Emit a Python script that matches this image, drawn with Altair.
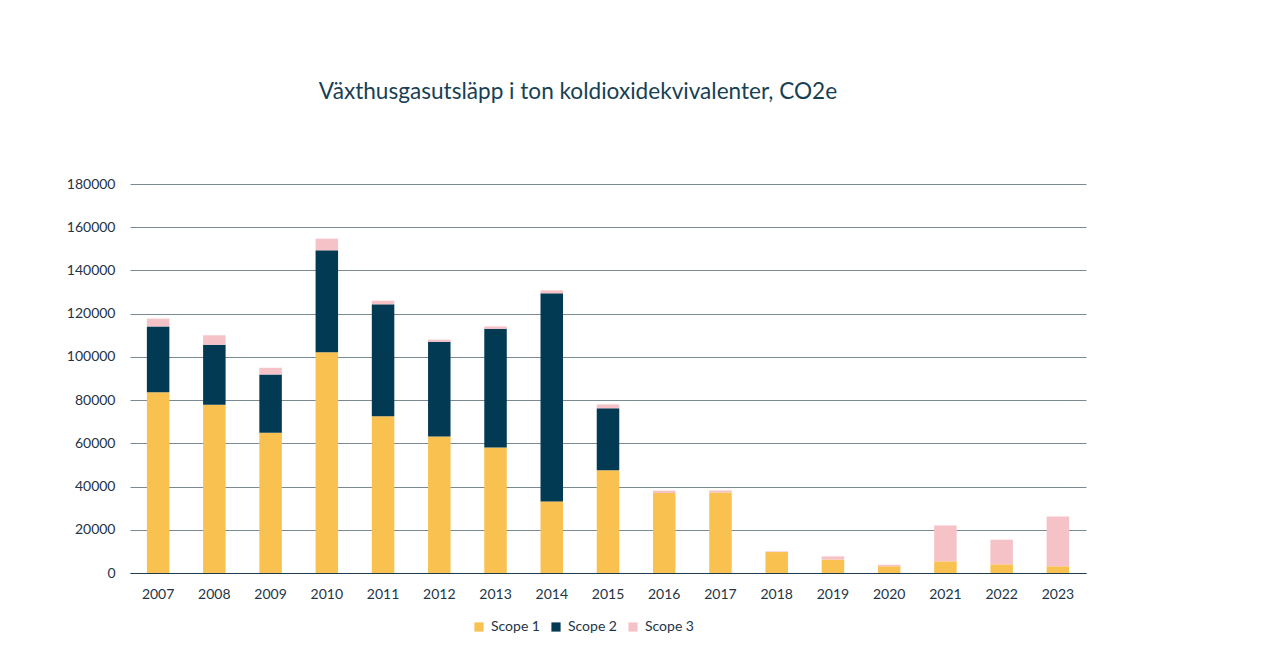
import altair as alt
import pandas as pd

years = [str(y) for y in range(2007, 2024)]
scope1 = [83600, 77900, 64900, 102100, 72500, 63200, 58100, 33100, 47500, 37000, 37300, 9700, 6200, 3100, 5400, 4000, 3100]
scope2 = [30500, 27700, 26900, 47200, 51800, 43800, 54900, 96300, 28700, 0, 0, 0, 0, 0, 0, 0, 0]
scope3 = [3600, 4400, 3200, 5400, 1700, 1000, 1100, 1400, 1800, 1100, 900, 300, 1500, 700, 16600, 11400, 23100]
series = ["Scope 1", "Scope 2", "Scope 3"]
colors = ["#F9C14F", "#033A53", "#F5C2C7"]
y_ticks = [0, 20000, 40000, 60000, 80000, 100000, 120000, 140000, 160000, 180000]

rows = []
for i, y in enumerate(years):
    for k, (name, vals) in enumerate(zip(series, [scope1, scope2, scope3])):
        rows.append({"year": y, "scope": name, "value": vals[i], "ord": k})
df = pd.DataFrame(rows)

FONT = "Lato"
TXT = "#1d3547"

chart = alt.Chart(df).mark_bar().encode(
    x=alt.X("year:N", title=None, sort=years,
            scale=alt.Scale(paddingInner=0.6, paddingOuter=0.3),
            axis=alt.Axis(labelAngle=0, ticks=False, domainColor="#1f3b4d", domainWidth=1,
                          labelPadding=14, labelFontSize=14, labelColor=TXT, labelFont=FONT, grid=False)),
    y=alt.Y("value:Q", title=None, stack="zero",
            scale=alt.Scale(domain=[0, 180000]),
            axis=alt.Axis(values=y_ticks, ticks=False, domain=False, gridColor="#7a8a93", gridWidth=1,
                          labelPadding=15, labelFontSize=14, labelColor=TXT, labelFont=FONT, format="d")),
    color=alt.Color("scope:N", scale=alt.Scale(domain=series, range=colors),
                    legend=alt.Legend(title=None, orient="none", direction="horizontal",
                                      legendX=342, legendY=436, symbolType="square", symbolSize=85,
                                      symbolStrokeWidth=0, labelFontSize=14, labelColor=TXT, labelFont=FONT,
                                      labelOffset=5, columnPadding=9, symbolOpacity=1)),
    order=alt.Order("ord:Q"),
).properties(
    width=956, height=389,
    title=alt.TitleParams("Växthusgasutsläpp i ton koldioxidekvivalenter, CO2e", fontSize=22.6,
                          font=FONT, fontWeight="normal", color="#173f55", offset=73, dx=-30),
    autosize=alt.AutoSizeParams(type="none"),
    padding={"left": 122, "top": 176, "right": 170, "bottom": 60},
).configure_view(stroke=None)

chart.save("out.html", embed_options={"renderer": "svg", "actions": False})
